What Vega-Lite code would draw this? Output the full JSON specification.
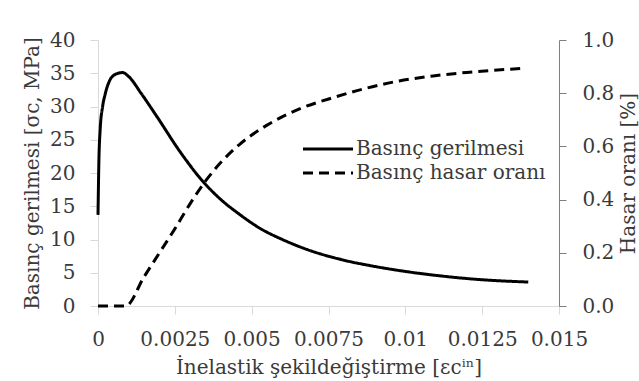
{
  "$schema": "https://vega.github.io/schema/vega-lite/v6.json",
  "width": 461,
  "height": 266,
  "autosize": "none",
  "padding": {"left": 98, "top": 40, "right": 80, "bottom": 75},
  "background": "white",
  "config": {
    "view": {"stroke": null},
    "font": "DejaVu Serif",
    "axis": {
      "grid": false,
      "labelFont": "DejaVu Serif",
      "titleFont": "DejaVu Serif",
      "labelFontSize": 20,
      "titleFontSize": 20,
      "titleFontWeight": "normal",
      "labelColor": "#3a3a3a",
      "titleColor": "#3a3a3a"
    }
  },
  "data": {
    "values": [
      {"x": 0, "v": 13.7, "s": "Basınç gerilmesi"},
      {"x": 0.00003, "v": 22, "s": "Basınç gerilmesi"},
      {"x": 0.00007, "v": 26.5, "s": "Basınç gerilmesi"},
      {"x": 0.00015, "v": 30, "s": "Basınç gerilmesi"},
      {"x": 0.00023, "v": 31.8, "s": "Basınç gerilmesi"},
      {"x": 0.00039, "v": 34, "s": "Basınç gerilmesi"},
      {"x": 0.00055, "v": 34.8, "s": "Basınç gerilmesi"},
      {"x": 0.0008, "v": 35.1, "s": "Basınç gerilmesi"},
      {"x": 0.001, "v": 34.5, "s": "Basınç gerilmesi"},
      {"x": 0.0014, "v": 32, "s": "Basınç gerilmesi"},
      {"x": 0.0019, "v": 28.6, "s": "Basınç gerilmesi"},
      {"x": 0.0027, "v": 23, "s": "Basınç gerilmesi"},
      {"x": 0.0034, "v": 18.8, "s": "Basınç gerilmesi"},
      {"x": 0.004, "v": 16.0, "s": "Basınç gerilmesi"},
      {"x": 0.0046, "v": 13.8, "s": "Basınç gerilmesi"},
      {"x": 0.0053, "v": 11.6, "s": "Basınç gerilmesi"},
      {"x": 0.006, "v": 10.0, "s": "Basınç gerilmesi"},
      {"x": 0.0068, "v": 8.5, "s": "Basınç gerilmesi"},
      {"x": 0.0079, "v": 7.0, "s": "Basınç gerilmesi"},
      {"x": 0.009, "v": 5.95, "s": "Basınç gerilmesi"},
      {"x": 0.01, "v": 5.2, "s": "Basınç gerilmesi"},
      {"x": 0.0111, "v": 4.55, "s": "Basınç gerilmesi"},
      {"x": 0.0122, "v": 4.05, "s": "Basınç gerilmesi"},
      {"x": 0.014, "v": 3.6, "s": "Basınç gerilmesi"},
      {"x": 0, "v": 0, "s": "Basınç hasar oranı"},
      {"x": 0.0009, "v": 0, "s": "Basınç hasar oranı"},
      {"x": 0.0015, "v": 0.11, "s": "Basınç hasar oranı"},
      {"x": 0.002, "v": 0.2, "s": "Basınç hasar oranı"},
      {"x": 0.0025, "v": 0.29, "s": "Basınç hasar oranı"},
      {"x": 0.003, "v": 0.385, "s": "Basınç hasar oranı"},
      {"x": 0.0035, "v": 0.47, "s": "Basınç hasar oranı"},
      {"x": 0.004, "v": 0.54, "s": "Basınç hasar oranı"},
      {"x": 0.0046, "v": 0.607, "s": "Basınç hasar oranı"},
      {"x": 0.0055, "v": 0.68, "s": "Basınç hasar oranı"},
      {"x": 0.0066, "v": 0.743, "s": "Basınç hasar oranı"},
      {"x": 0.0077, "v": 0.785, "s": "Basınç hasar oranı"},
      {"x": 0.0087, "v": 0.818, "s": "Basınç hasar oranı"},
      {"x": 0.0098, "v": 0.846, "s": "Basınç hasar oranı"},
      {"x": 0.0109, "v": 0.865, "s": "Basınç hasar oranı"},
      {"x": 0.012, "v": 0.878, "s": "Basınç hasar oranı"},
      {"x": 0.0138, "v": 0.893, "s": "Basınç hasar oranı"}
    ]
  },
  "encoding": {
    "x": {
      "field": "x",
      "type": "quantitative",
      "scale": {"domain": [0, 0.015], "nice": false, "zero": false},
      "axis": {
        "values": [0, 0.0025, 0.005, 0.0075, 0.01, 0.0125, 0.015],
        "labelExpr": "datum.value + ''",
        "title": "İnelastik şekildeğiştirme [εcⁱⁿ]",
        "domainColor": "#d9d9d9",
        "tickColor": "#d9d9d9",
        "tickSize": 8,
        "labelPadding": 15,
        "titlePadding": 8,
        "labelFlush": false,
        "labelOverlap": false
      }
    },
    "strokeDash": {
      "field": "s",
      "type": "nominal",
      "scale": {"domain": ["Basınç gerilmesi", "Basınç hasar oranı"], "range": [[1, 0], [10, 6]]},
      "legend": {
        "orient": "none",
        "legendX": 216,
        "legendY": 95,
        "title": null,
        "padding": 0,
        "symbolType": "M-2,0H2",
        "symbolSize": 625,
        "symbolStrokeColor": "black",
        "symbolStrokeWidth": 3,
        "labelFont": "DejaVu Serif",
        "labelFontSize": 20,
        "labelColor": "#3a3a3a",
        "labelLimit": 400,
        "labelOffset": 14,
        "rowPadding": 0
      }
    }
  },
  "layer": [
    {
      "transform": [{"filter": "datum.s == 'Basınç gerilmesi'"}],
      "mark": {"type": "line", "color": "black", "strokeWidth": 3, "interpolate": "monotone"},
      "encoding": {
        "y": {
          "field": "v",
          "type": "quantitative",
          "scale": {"domain": [0, 40], "nice": false},
          "axis": {
            "values": [0, 5, 10, 15, 20, 25, 30, 35, 40],
            "title": "Basınç gerilmesi [σc, MPa]",
            "domainColor": "#d9d9d9",
            "tickColor": "#d9d9d9",
            "tickSize": 8,
            "labelPadding": 15,
            "titlePadding": 7
          }
        }
      }
    },
    {
      "transform": [{"filter": "datum.s == 'Basınç hasar oranı'"}],
      "mark": {"type": "line", "color": "black", "strokeWidth": 3, "interpolate": "monotone"},
      "encoding": {
        "y": {
          "field": "v",
          "type": "quantitative",
          "scale": {"domain": [0, 1], "nice": false},
          "axis": {
            "orient": "right",
            "values": [0, 0.2, 0.4, 0.6, 0.8, 1.0],
            "format": ".1f",
            "title": "Hasar oranı [%]",
            "titleAngle": 270,
            "titleBaseline": "top",
            "domainColor": "#7f7f7f",
            "tickColor": "#7f7f7f",
            "tickSize": 7,
            "labelPadding": 16,
            "titlePadding": 5
          }
        }
      }
    }
  ],
  "resolve": {"scale": {"y": "independent"}}
}
